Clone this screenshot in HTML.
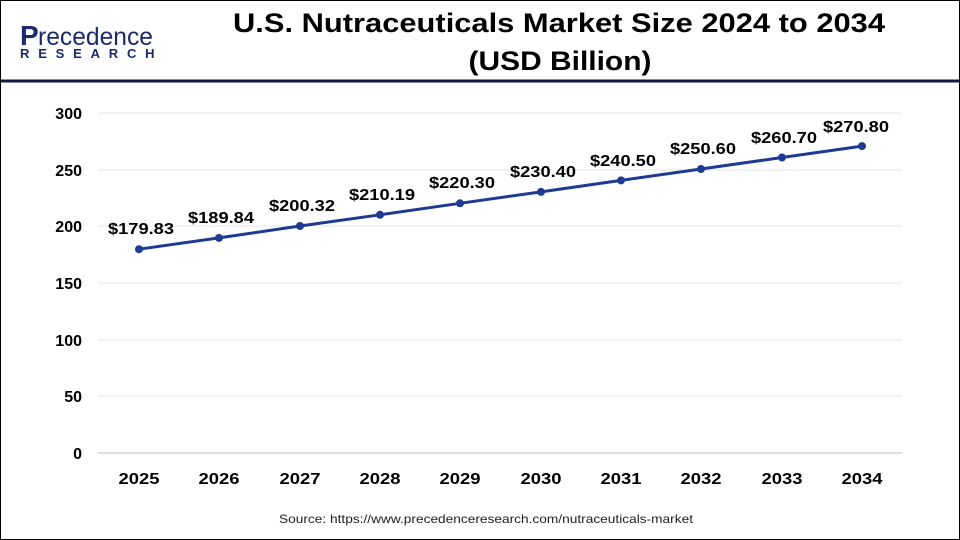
<!DOCTYPE html>
<html><head><style>
body{margin:0;background:#fff;}
.wrap{position:relative;width:958px;height:538px;border:1px solid #000;overflow:hidden;font-family:"Liberation Sans",Arial,sans-serif;}
</style></head><body><div class="wrap">
<svg width="958" height="538" viewBox="1 1 958 538" xmlns="http://www.w3.org/2000/svg" style="position:absolute;left:0;top:0">
<text x="20" y="45" font-size="28" fill="#1a2a6c" font-weight="bold">P</text>
<text x="38" y="45" font-size="25" fill="#1a2a6c" textLength="115" lengthAdjust="spacingAndGlyphs">recedence</text>
<text x="20" y="58" font-size="13" fill="#1a2a6c" font-weight="bold" letter-spacing="8.8">RESEARCH</text>
<text x="559" y="32" text-anchor="middle" font-size="27" font-weight="bold" fill="#000" textLength="652" lengthAdjust="spacingAndGlyphs">U.S. Nutraceuticals Market Size 2024 to 2034</text>
<text x="560" y="70" text-anchor="middle" font-size="27" font-weight="bold" fill="#000" textLength="183" lengthAdjust="spacingAndGlyphs">(USD Billion)</text>
<line x1="0" y1="81" x2="960" y2="81" stroke="#0f1a45" stroke-width="3"/>
<g stroke="#e6e6e6" stroke-width="1">
<line x1="98" y1="113" x2="902" y2="113"/><line x1="98" y1="170" x2="902" y2="170"/><line x1="98" y1="226" x2="902" y2="226"/><line x1="98" y1="283" x2="902" y2="283"/><line x1="98" y1="340" x2="902" y2="340"/><line x1="98" y1="396" x2="902" y2="396"/>
</g>
<line x1="98" y1="453" x2="902" y2="453" stroke="#bbb"/>
<g font-size="16" font-weight="bold" fill="#000" text-anchor="end">
<text x="82" y="119">300</text><text x="82" y="176">250</text><text x="82" y="232">200</text><text x="82" y="289">150</text><text x="82" y="346">100</text><text x="82" y="402">50</text><text x="82" y="459">0</text>
</g>
<g font-size="16" font-weight="bold" fill="#000" text-anchor="middle" lengthAdjust="spacingAndGlyphs">
<text x="139" y="484" textLength="41" lengthAdjust="spacingAndGlyphs">2025</text><text x="219" y="484" textLength="41" lengthAdjust="spacingAndGlyphs">2026</text><text x="300" y="484" textLength="41" lengthAdjust="spacingAndGlyphs">2027</text><text x="380" y="484" textLength="41" lengthAdjust="spacingAndGlyphs">2028</text><text x="460" y="484" textLength="41" lengthAdjust="spacingAndGlyphs">2029</text><text x="541" y="484" textLength="41" lengthAdjust="spacingAndGlyphs">2030</text><text x="621" y="484" textLength="41" lengthAdjust="spacingAndGlyphs">2031</text><text x="701" y="484" textLength="41" lengthAdjust="spacingAndGlyphs">2032</text><text x="782" y="484" textLength="41" lengthAdjust="spacingAndGlyphs">2033</text><text x="862" y="484" textLength="41" lengthAdjust="spacingAndGlyphs">2034</text>
</g>
<polyline fill="none" stroke="#1f3a93" stroke-width="3" points="139,249.2 219,237.9 300,226 380,214.8 460,203.3 541,191.9 621,180.4 701,169 782,157.5 862,146.1"/>
<g fill="#1f3a93">
<circle cx="139" cy="249.2" r="4"/><circle cx="219" cy="237.9" r="4"/><circle cx="300" cy="226" r="4"/><circle cx="380" cy="214.8" r="4"/><circle cx="460" cy="203.3" r="4"/><circle cx="541" cy="191.9" r="4"/><circle cx="621" cy="180.4" r="4"/><circle cx="701" cy="169" r="4"/><circle cx="782" cy="157.5" r="4"/><circle cx="862" cy="146.1" r="4"/>
</g>
<g font-size="16" font-weight="bold" fill="#000" text-anchor="middle">
<text x="141" y="234" textLength="66" lengthAdjust="spacingAndGlyphs">$179.83</text><text x="221" y="223" textLength="66" lengthAdjust="spacingAndGlyphs">$189.84</text><text x="302" y="211" textLength="66" lengthAdjust="spacingAndGlyphs">$200.32</text><text x="382" y="200" textLength="66" lengthAdjust="spacingAndGlyphs">$210.19</text><text x="462" y="188" textLength="66" lengthAdjust="spacingAndGlyphs">$220.30</text><text x="543" y="177" textLength="66" lengthAdjust="spacingAndGlyphs">$230.40</text><text x="623" y="166" textLength="66" lengthAdjust="spacingAndGlyphs">$240.50</text><text x="703" y="154" textLength="66" lengthAdjust="spacingAndGlyphs">$250.60</text><text x="784" y="143" textLength="66" lengthAdjust="spacingAndGlyphs">$260.70</text><text x="856" y="132" textLength="66" lengthAdjust="spacingAndGlyphs">$270.80</text>
</g>
<text x="486" y="523" text-anchor="middle" font-size="12" fill="#222" textLength="414" lengthAdjust="spacingAndGlyphs">Source: https://www.precedenceresearch.com/nutraceuticals-market</text>
</svg>
</div></body></html>
